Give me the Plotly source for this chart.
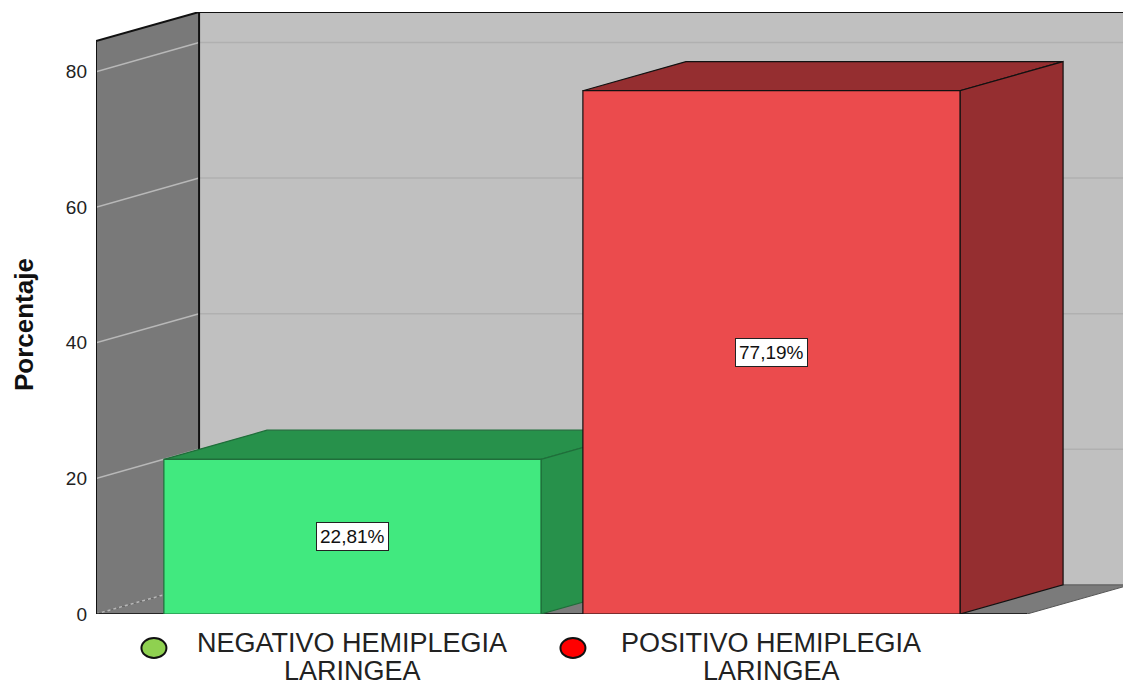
import plotly.graph_objects as go

# ---- data ----
categories = ["NEGATIVO HEMIPLEGIA LARINGEA", "POSITIVO HEMIPLEGIA LARINGEA"]
legend_line1 = ["NEGATIVO HEMIPLEGIA", "POSITIVO HEMIPLEGIA"]
legend_line2 = ["LARINGEA", "LARINGEA"]
percent = [22.81, 77.19]
value_labels = ["22,81%", "77,19%"]
y_ticks = [0, 20, 40, 60, 80]
y_title = "Porcentaje"

# ---- style / geometry (3D look) ----
BAR_W = 0.9
DX = 0.246          # depth offset in category units
DY = 4.3            # depth offset in value units
WALL_TOP = 84.5
X_LEFT = -0.612
X_RIGHT = 1.839
FLOOR_RIGHT = 1.61
Y_MAX = WALL_TOP + DY

front_colors = ["#41e97f", "#eb4b4d"]
dark_colors = ["#27914b", "#952e30"]
edge_colors = ["#1f6e3a", "#111111"]
legend_colors = ["#8fd150", "#ff0000"]
FONT = "Liberation Sans, Arial, sans-serif"

fig = go.Figure()


def poly(xs, ys, fill, line_color="rgba(0,0,0,0)", width=0):
    fig.add_trace(go.Scatter(
        x=list(xs) + [xs[0]], y=list(ys) + [ys[0]],
        mode="lines", fill="toself", fillcolor=fill,
        line=dict(color=line_color, width=width),
        hoverinfo="skip", showlegend=False, cliponaxis=False))


def line(xs, ys, color, width, dash="solid"):
    fig.add_trace(go.Scatter(
        x=xs, y=ys, mode="lines",
        line=dict(color=color, width=width, dash=dash),
        hoverinfo="skip", showlegend=False, cliponaxis=False,
        connectgaps=False))


XR = X_RIGHT + 0.05
# back wall
poly([X_LEFT + DX, XR, XR, X_LEFT + DX], [DY, DY, Y_MAX, Y_MAX], "#c0c0c0")
# floor
poly([X_LEFT, FLOOR_RIGHT, FLOOR_RIGHT + DX, X_LEFT + DX], [0, 0, DY, DY],
     "#7b7b7b", "#555555", 1)
# left wall
poly([X_LEFT, X_LEFT, X_LEFT + DX, X_LEFT + DX], [0, WALL_TOP, Y_MAX, DY], "#797979")

# gridlines
gx, gy = [], []
for v in y_ticks[1:]:
    gx += [X_LEFT + DX, XR, None]
    gy += [v + DY, v + DY, None]
line(gx, gy, "#b0b0b0", 1.5)
lx, ly = [], []
for v in y_ticks[1:]:
    lx += [X_LEFT, X_LEFT + DX, None]
    ly += [v, v + DY, None]
line(lx, ly, "#b8b8b8", 1.5)
line([X_LEFT, X_LEFT + DX], [0, DY], "#b8b8b8", 1.5, "dot")

# wall edges
line([X_LEFT, X_LEFT, X_LEFT + DX, XR], [0, WALL_TOP, Y_MAX, Y_MAX], "#111111", 2)
line([X_LEFT + DX, X_LEFT + DX], [DY, Y_MAX], "#111111", 2)
line([X_LEFT, FLOOR_RIGHT], [0, 0], "#111111", 1.5)

# bars
for i, v in enumerate(percent):
    c = i
    L, R = c - BAR_W / 2, c + BAR_W / 2
    poly([L, R, R + DX, L + DX], [v, v, v + DY, v + DY], dark_colors[i], edge_colors[i], 1.2)
    poly([R, R + DX, R + DX, R], [0, DY, v + DY, v], dark_colors[i], edge_colors[i], 1.2)
    poly([L, R, R, L], [0, 0, v, v], front_colors[i], edge_colors[i], 1.2)

annotations = []
for i, v in enumerate(percent):
    annotations.append(dict(
        x=i, y=v / 2, xref="x", yref="y", text=value_labels[i], showarrow=False,
        bgcolor="white", bordercolor="#222222", borderwidth=1, borderpad=3,
        font=dict(family=FONT, size=19, color="#111111")))
    annotations.append(dict(
        x=i, y=0, xref="x", yref="y", text=legend_line1[i], showarrow=False,
        yanchor="middle", yshift=-29, borderpad=0,
        font=dict(family=FONT, size=27, color="#222222")))
    annotations.append(dict(
        x=i, y=0, xref="x", yref="y", text=legend_line2[i], showarrow=False,
        yanchor="middle", yshift=-57, borderpad=0,
        font=dict(family=FONT, size=27, color="#222222")))

annotations.append(dict(
    x=0, y=0.48, xref="paper", yref="paper", xanchor="center", yanchor="middle",
    xshift=-72, text="<b>" + y_title + "</b>", textangle=-90, showarrow=False,
    font=dict(family=FONT, size=26, color="#111111")))

shapes = []
for i in range(len(categories)):
    xa = (i - X_LEFT) / (X_RIGHT - X_LEFT)
    shapes.append(dict(
        type="circle", xref="paper", yref="paper",
        xsizemode="pixel", ysizemode="pixel",
        xanchor=xa, yanchor=0, x0=-211, x1=-186, y0=-44, y1=-24,
        fillcolor=legend_colors[i], line=dict(color="#111111", width=2)))

fig.update_layout(
    width=1123, height=686,
    margin=dict(l=96, r=0, t=12, b=72),
    paper_bgcolor="white", plot_bgcolor="rgba(0,0,0,0)",
    xaxis=dict(range=[X_LEFT, X_RIGHT], visible=False, fixedrange=True),
    yaxis=dict(range=[0, Y_MAX], tickvals=y_ticks, showgrid=False, zeroline=False,
               showline=False, ticks="", ticklabelstandoff=8,
               tickfont=dict(family=FONT, size=19, color="#222222"), fixedrange=True),
    annotations=annotations, shapes=shapes,
    showlegend=False,
)

# remove the default 8px page margin so the figure fills the window exactly
fig.write_html(
    "out.html",
    config={"displayModeBar": False},
    post_script="document.body.style.margin='0';document.body.style.overflow='hidden';",
)
